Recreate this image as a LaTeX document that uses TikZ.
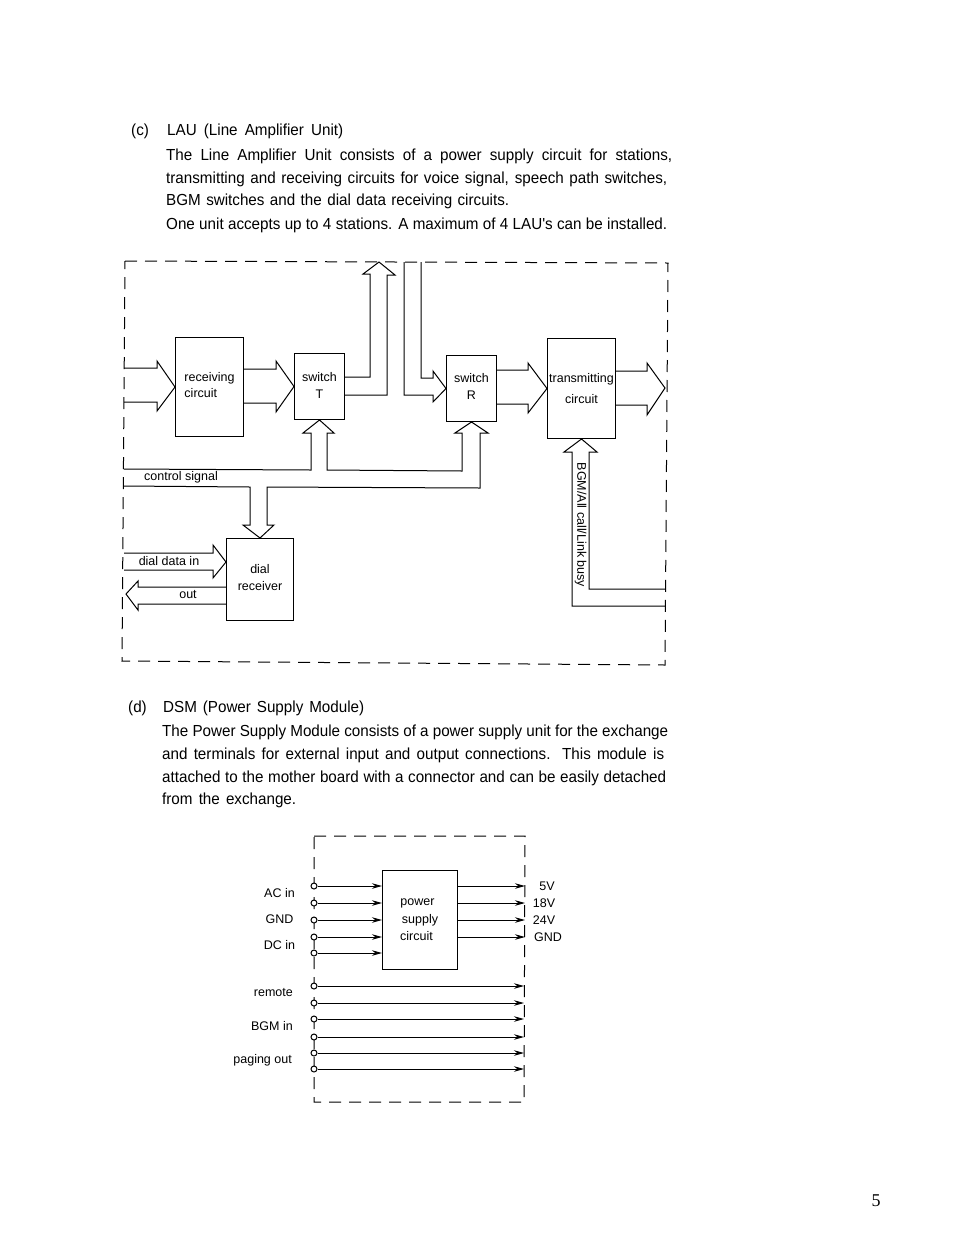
\documentclass[tikz,border=0pt]{standalone}
\usepackage{fontspec}
\setmainfont{Liberation Sans}
\newfontfamily\bodyfont[FakeStretch=0.95]{Liberation Sans}
\newfontfamily\pagefont{Liberation Serif}
\usetikzlibrary{arrows.meta}
\newcommand\para[5]{\node[para] (#1) at (#2,#3) {\makebox[#4pt][s]{#5}};}
\newcommand\liftup[1]{\rule[-#1pt]{0pt}{0pt}}
\tikzset{
  frame/.style={draw=black,line width=1pt,dash pattern=on 12pt off 8pt},
  conn/.style={draw=black,line width=1pt,line join=miter},
  blockbox/.style={draw=black,line width=1pt,anchor=north west,inner sep=0pt,align=center,font=\fontsize{12.5}{14}\selectfont},
  para/.style={anchor=base west,inner sep=0pt,font=\bodyfont\fontsize{16}{19}\selectfont},
  lab/.style={inner sep=0pt,font=\fontsize{12.5}{14}\selectfont},
  term/.style={circle,draw=black,fill=white,line width=1pt,minimum size=6pt,inner sep=0pt},
  wire/.style={draw=black,line width=1pt,-{Stealth[length=10pt,width=5.5pt]}}
}
\begin{document}
\begin{tikzpicture}[x=1pt,y=-1pt]
\useasboundingbox (0,0) rectangle (954,1235);
\fill[white] (0,0) rectangle (954,1235);

% section (c) text
\para{cmark}{131}{135}{20}{(c)}
\para{chead}{167}{135}{176}{LAU (Line Amplifier Unit)}
\para{c1}{166}{160}{506}{The Line Amplifier Unit consists of a power supply circuit for stations,}
\para{c2}{166}{183}{501}{transmitting and receiving circuits for voice signal, speech path switches,}
\para{c3}{166}{205}{343}{BGM switches and the dial data receiving circuits.}
\para{c4}{166}{229}{501}{One unit accepts up to 4 stations. A maximum of 4 LAU's can be installed.}

% LAU frame
\draw[frame] (125,261) -- (668,263) -- (665,665) -- (122,661) -- cycle;

% LAU blocks
\node[blockbox,minimum width=68pt,minimum height=99pt,align=left] (recv) at (175,337) {receiving\\[2.5pt]circuit\liftup{4}};
\node[blockbox,minimum width=50pt,minimum height=66pt] (swT) at (294,353) {switch\\[3.5pt]T\liftup{2}};
\node[blockbox,minimum width=50pt,minimum height=66pt] (swR) at (446,355) {switch\\[2.5pt]R\liftup{4}};
\node[blockbox,minimum width=68pt,minimum height=100pt] (trans) at (547,338) {transmitting\\[7.5pt]circuit};
\node[blockbox,minimum width=67pt,minimum height=82pt] (dial) at (226,538) {dial\\[3.5pt]receiver\liftup{4}};

% free ends on the frame
\coordinate (inA) at (124,368);
\coordinate (inB) at (124,402);
\coordinate (upTip) at (379,262);
\coordinate (downA) at (404,262);
\coordinate (downB) at (421,262);
\coordinate (outTip) at (665,388);
\coordinate (ctlA) at (124,469);
\coordinate (ctlB) at (124,486);
\coordinate (dinA) at (124,553);
\coordinate (dinB) at (124,570);
\coordinate (doutTip) at (126,594);
\coordinate (bgmA) at (665,589);
\coordinate (bgmB) at (665,606);
\coordinate (dinTip) at (226,562);

% block arrows
\draw[conn] (inA) -- (157,368) -- (157,361) -- (recv.west) -- (157,411) -- (157,402) -- (inB);
\draw[conn] (recv.east |- 0,369) -- (276,369) -- (276,361) -- (swT.west) -- (276,412) -- (276,403) -- (recv.east |- 0,403);
\draw[conn] (swT.east |- 0,377) -- (370,377) -- (370,274) -- (363,274) -- (upTip) -- (395,275) -- (387,275) -- (387,395) -- (swT.east |- 0,395);
\draw[conn] (downB) -- (421,378) -- (433,378) -- (433,371) -- (swR.west) -- (433,402) -- (433,395) -- (404,395) -- (downA);
\draw[conn] (swR.east |- 0,370) -- (528,370) -- (528,363) -- (trans.west) -- (528,413) -- (528,404) -- (swR.east |- 0,404);
\draw[conn] (trans.east |- 0,371) -- (647,371) -- (647,363) -- (outTip) -- (647,415) -- (647,405) -- (trans.east |- 0,405);
\draw[conn] (ctlA) -- (311,470) -- (311,433) -- (303,433) -- (swT.south) -- (334,433) -- (327,433) -- (327,470) -- (462,471) -- (462,433) -- (455,433) -- (swR.south) -- (488,433) -- (480,433) -- (480,488) -- (267,487) -- (267,525) -- (274,525) -- (dial.north) -- (243,525) -- (250,525) -- (250,487) -- (ctlB);
\draw[conn] (dinA) -- (213,553) -- (213,545) -- (dinTip) -- (213,578) -- (213,570) -- (dinB);
\draw[conn] (dial.west |- 0,587) -- (138,587) -- (138,581) -- (doutTip) -- (138,610) -- (138,604) -- (dial.west |- 0,604);
\draw[conn] (bgmA) -- (589,589) -- (589,452) -- (597,452) -- (trans.south) -- (564,452) -- (572,452) -- (572,606) -- (bgmB);

% LAU labels
\node[lab] (lctl) at (181,477.5) {control signal};
\node[lab] (ldin) at (169,561) {dial data in};
\node[lab] (lout) at (188,595) {out};
\node[lab,rotate=-90] (lbgm) at (580.5,525) {BGM/All call/Link busy};

% section (d) text
\para{dmark}{128}{712}{19}{(d)}
\para{dhead}{163}{712}{201}{DSM (Power Supply Module)}
\para{d1}{162}{736}{506}{The Power Supply Module consists of a power supply unit for the exchange}
\para{d2}{162}{759}{502}{and terminals for external input and output connections. This module is}
\para{d3}{162}{782}{504}{attached to the mother board with a connector and can be easily detached}
\para{d4}{162}{804}{134}{from the exchange.}

% DSM frame and block
\draw[frame] (314,836) -- (525,836) -- (524,1102) -- (314,1102) -- cycle;
\node[blockbox,minimum width=75pt,minimum height=99pt] (psu) at (382,870) {power\hspace*{5pt}\\[3.5pt]supply\hspace*{4pt}\\[3.5pt]circuit\hspace*{7pt}};

% DSM inputs and outputs
\foreach \n/\y in {1/886,2/903,3/920,4/937,5/953}{
  \node[term] (ti\n) at (314,\y) {};
  \draw[wire] (ti\n) -- (psu.west |- ti\n);
}
\foreach \n/\y in {1/886,2/903,3/920,4/937}{
  \coordinate (to\n) at (525,\y);
  \draw[wire] (psu.east |- to\n) -- (to\n);
}
\foreach \n/\y in {1/986,2/1003,3/1019,4/1037,5/1053,6/1069}{
  \node[term] (tb\n) at (314,\y) {};
  \coordinate (te\n) at (524,\y);
  \draw[wire] (tb\n) -- (te\n);
}

% DSM labels
\node[lab] (lac) at (279.5,893) {AC in};
\node[lab] (lgnd) at (279.5,919) {GND};
\node[lab] (ldc) at (279.5,945) {DC in};
\node[lab] (l5) at (547,886) {5V};
\node[lab] (l18) at (544,903) {18V};
\node[lab] (l24) at (544,920) {24V};
\node[lab] (lgn2) at (548,937) {GND};
\node[lab,anchor=east] (lrem) at (293,993) {remote};
\node[lab,anchor=east] (lbgmin) at (293,1026) {BGM in};
\node[lab,anchor=east] (lpag) at (292,1060) {paging out};

\node[inner sep=0pt,font=\pagefont\fontsize{18}{20}\selectfont] (pg) at (876,1201) {5};
\end{tikzpicture}
\end{document}
